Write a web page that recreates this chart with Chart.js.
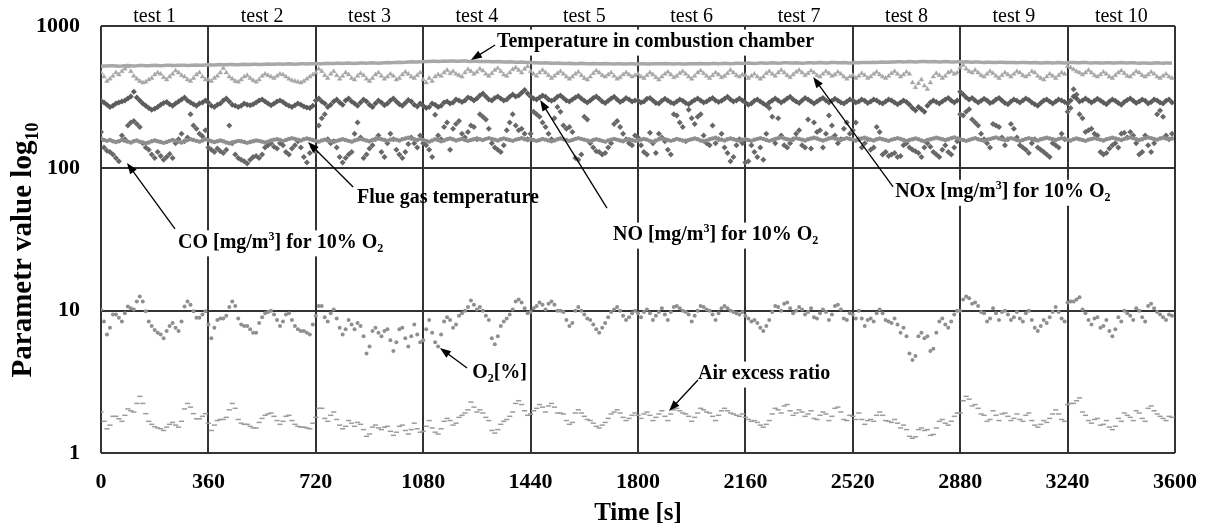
<!DOCTYPE html>
<html>
<head>
<meta charset="utf-8">
<script src="https://cdn.jsdelivr.net/npm/chart.js@4.4.0/dist/chart.umd.min.js"></script>
<style>
  html, body { margin: 0; padding: 0; background: #fff; }
  #wrap { width: 1206px; height: 530px; }
</style>
</head>
<body>
<div id="wrap"><canvas id="chart" width="1206" height="530"></canvas></div>
<script>
// sampling step of the measurements [s]
var sampleStep = 10;
var testLabels = ["test 1", "test 2", "test 3", "test 4", "test 5", "test 6", "test 7", "test 8", "test 9", "test 10"];
var yTicks = [1, 10, 100, 1000];

// temperature in combustion chamber
var chamberTemp = [
  522,524,523,525,526,524,522,523,525,527,526,524,525,527,528,526,525,527,529,528,526,527,529,530,528,527,529,531,530,528,529,531,532,530,531,533,
  534,532,533,535,536,534,535,537,536,534,535,537,538,536,537,539,538,536,537,539,540,538,539,541,540,538,540,542,541,539,541,543,542,540,542,544,
  545,543,544,546,547,545,546,548,547,545,547,549,548,546,548,550,549,547,549,551,550,548,550,552,554,552,553,555,557,555,556,558,560,558,559,561,
  562,564,563,565,566,564,565,567,566,568,567,565,566,568,567,565,564,566,565,563,562,564,563,561,560,562,561,559,558,560,559,557,556,558,556,554,
  553,551,552,550,549,551,550,548,547,549,548,546,545,547,546,544,545,547,546,544,543,545,544,542,543,545,544,542,541,543,542,540,541,543,542,540,
  541,543,542,540,541,543,544,542,543,545,544,542,541,543,542,540,541,543,544,542,543,545,544,542,543,545,546,544,545,547,546,544,545,547,548,546,
  547,549,548,546,547,549,550,548,549,551,550,548,549,551,552,550,549,551,550,548,549,551,552,550,551,553,552,550,551,553,554,552,551,553,552,550,
  551,553,552,554,555,553,554,556,555,557,558,556,557,559,558,560,561,559,560,562,561,559,560,562,563,561,560,562,561,559,560,562,561,559,558,560,
  561,559,560,558,557,559,558,556,555,557,556,554,555,557,556,554,553,555,554,552,553,555,554,552,551,553,552,550,551,553,552,550,551,553,552,550,
  552,554,553,551,552,554,553,551,550,552,551,549,550,552,551,549,550,552,553,551,550,552,551,549,548,550,549,547,548,550,551,549,548,550,549,547
];

// NOx [mg/m3] for 10% O2
var noxValues = [
  470,440,410,425,445,470,455,480,500,520,480,445,425,410,400,405,420,430,455,470,460,435,420,440,460,485,470,450,440,420,410,430,455,470,440,420,
  420,410,430,445,470,505,470,440,425,410,405,420,440,450,430,415,405,420,445,460,450,440,430,445,460,455,440,425,415,410,405,400,410,425,440,455,
  470,500,480,450,430,460,480,450,425,445,470,455,430,420,445,465,450,425,410,430,455,470,445,425,440,460,445,420,430,455,475,460,440,430,450,470,
  420,400,430,410,440,455,445,470,490,465,480,460,450,440,470,495,480,460,475,500,485,460,445,465,490,505,480,455,445,470,495,510,490,470,500,520,
  480,460,445,470,490,470,450,430,445,465,480,460,440,425,440,460,475,450,430,420,440,465,485,470,450,440,455,470,445,425,435,455,470,455,440,450,
  460,440,430,450,470,455,435,420,440,460,475,455,435,445,465,480,460,440,425,445,470,485,465,445,430,450,470,455,435,445,465,490,470,450,440,455,
  450,430,445,460,440,425,440,465,480,460,445,470,490,470,450,435,455,475,490,470,450,465,485,470,450,440,460,480,465,445,455,475,460,440,425,440,
  450,430,445,465,450,430,440,460,475,455,440,430,445,465,480,460,440,455,475,460,400,370,395,420,380,360,400,440,465,450,430,445,470,480,460,470,
  510,530,500,480,470,490,470,450,440,460,480,465,445,430,450,470,455,440,460,480,470,450,440,455,480,470,445,430,420,440,460,445,430,450,470,460,
  520,510,495,480,470,455,470,490,470,450,440,455,475,460,440,430,450,470,485,465,445,440,460,480,470,450,440,455,475,460,440,430,445,460,440,430
];

// NO [mg/m3] for 10% O2
var noValues = [
  298,290,280,270,275,285,290,295,300,310,320,345,315,300,285,275,265,258,262,270,280,288,292,282,275,285,295,305,315,300,290,282,275,285,290,300,
  290,275,270,280,285,300,310,295,280,275,270,275,285,280,278,282,290,300,305,295,285,278,285,295,300,292,282,275,270,278,285,280,272,268,265,275,
  300,310,295,285,270,280,295,305,290,280,300,310,295,285,275,290,305,295,280,270,285,300,290,278,285,300,310,295,282,275,288,302,295,280,272,285,
  275,265,270,285,280,270,275,290,295,285,290,305,300,292,300,315,310,300,310,325,335,320,305,300,312,320,310,300,305,318,330,320,325,340,355,335,
  320,310,305,315,325,318,305,298,305,318,325,312,300,295,305,315,322,310,298,290,300,312,320,308,295,288,298,310,318,305,292,300,312,305,295,300,
  300,290,295,308,312,300,288,285,298,308,300,290,285,295,305,298,288,282,292,302,310,300,290,295,305,312,300,292,298,308,318,305,295,300,310,300,
  290,280,285,298,305,295,285,278,290,300,310,300,290,298,310,318,305,295,288,300,312,305,295,285,295,305,312,300,290,298,308,300,290,285,295,305,
  300,290,295,305,298,288,295,305,300,290,285,295,305,300,290,282,290,300,292,280,265,255,270,260,250,275,290,300,292,285,295,305,312,300,290,300,
  345,330,315,305,312,300,290,298,308,300,288,292,305,312,300,288,282,295,305,298,290,300,310,302,290,282,275,288,300,305,295,285,295,305,300,292,
  285,300,320,310,295,300,310,300,290,298,308,300,290,282,295,305,298,288,280,292,302,310,298,288,295,305,298,285,292,305,300,290,285,298,305,290
];

// flue gas temperature
var flueGasTemp = [
  162,158,156,158,155,153,155,158,156,154,152,155,157,154,152,150,152,155,157,155,153,151,153,156,158,156,154,152,155,158,160,158,156,154,157,160,
  158,155,153,155,157,155,152,150,152,154,156,155,153,151,153,155,157,156,154,152,154,157,159,160,158,156,158,161,163,161,159,157,160,162,160,158,
  156,154,157,159,157,155,153,156,158,160,158,156,154,157,159,161,159,157,155,158,160,162,160,158,156,159,161,159,157,160,162,164,162,160,158,161,
  158,156,154,157,160,158,155,157,160,162,160,157,159,161,158,156,158,160,162,160,158,161,163,161,159,157,160,162,160,158,156,159,161,163,160,158,
  160,158,156,158,161,159,157,155,157,160,162,160,158,156,158,161,163,161,159,157,155,158,160,158,156,154,157,159,161,159,157,155,158,160,158,156,
  157,159,161,159,156,154,157,160,162,160,158,156,158,161,159,157,155,158,160,162,160,157,155,157,160,162,164,161,159,157,160,162,160,158,156,159,
  160,158,156,159,161,163,161,158,156,158,161,163,165,162,160,158,160,163,161,159,157,160,162,164,162,159,157,159,162,164,162,160,158,161,163,161,
  159,157,160,162,164,161,159,157,160,162,160,158,156,159,161,163,161,158,156,158,160,162,160,157,155,158,160,162,164,162,160,158,160,163,165,162,
  160,158,156,158,161,163,160,158,156,159,161,163,165,162,160,158,161,163,161,158,156,158,161,163,161,159,157,160,162,164,162,160,158,161,163,161,
  159,157,160,162,160,158,156,159,161,163,161,159,157,160,162,164,162,160,158,161,163,165,163,160,158,160,163,165,163,161,159,162,164,162,160,162
];

// CO [mg/m3] for 10% O2
var coValues = [
  180,140,133,130,125,118,112,170,160,200,210,215,205,195,150,140,135,125,118,130,122,115,120,126,118,150,160,175,155,165,240,200,190,175,168,185,
  140,135,130,138,132,128,135,200,150,125,118,115,112,108,115,120,122,118,125,140,145,150,142,138,150,145,130,125,138,145,155,140,120,110,128,140,
  130,200,225,240,160,150,155,140,120,110,118,125,130,175,210,165,118,125,138,145,160,170,130,120,150,175,160,135,125,118,130,148,165,150,140,170,
  150,145,135,120,238,170,160,195,210,135,190,205,215,175,165,180,200,195,160,240,230,220,190,150,140,135,130,145,185,210,240,200,185,190,175,160,
  175,250,240,230,210,195,175,160,225,270,250,200,190,195,180,118,115,125,230,220,150,140,132,130,125,128,140,150,205,215,195,175,160,150,145,170,
  165,145,130,125,178,150,128,175,165,155,135,125,240,235,210,195,155,258,225,205,230,240,170,150,145,200,150,160,175,140,128,112,120,145,160,150,
  110,112,145,130,120,140,115,175,265,230,150,225,170,145,140,150,160,175,185,145,140,220,138,210,180,185,140,175,235,200,170,150,160,190,210,175,
  185,210,160,140,150,160,135,140,195,180,125,130,122,125,128,120,122,145,150,140,135,132,128,120,140,150,142,130,125,120,135,145,130,125,140,155,
  240,235,250,260,220,210,200,175,160,150,140,205,200,195,165,145,160,205,190,165,145,140,135,128,150,160,140,135,130,125,120,150,145,140,175,160,
  250,265,360,330,240,225,180,185,190,175,170,130,125,128,138,145,150,140,175,178,165,180,170,150,125,130,170,145,130,150,240,255,230,170,160,175
];

// O2 [%]
var o2Values = [
  10.2,8.4,6.8,7.6,9.4,9.4,8.9,8.4,9.6,10.7,10.4,10.2,11.6,12.6,11.6,9.9,8.4,7.8,7.3,7.0,6.8,6.4,7.2,7.8,8.2,7.6,7.2,8.4,10.7,11.6,11.0,9.9,8.9,8.9,9.4,9.9,
  8.0,6.4,7.6,8.6,8.8,8.8,9.2,10.6,11.6,10.8,8.8,8.0,7.8,7.8,7.4,7.0,7.0,8.2,9.0,9.6,9.8,10.0,9.4,8.6,7.8,8.4,9.4,9.6,8.6,7.8,7.4,7.2,7.2,7.0,6.8,8.0,
  9.2,10.8,10.8,9.0,8.4,9.6,10.2,8.8,7.6,6.8,7.4,8.6,8.0,7.4,8.2,7.8,6.6,5.0,5.6,7.2,7.6,7.0,6.6,7.2,7.4,6.2,5.2,6.0,7.4,7.6,6.4,5.6,6.6,8.0,6.8,6.0,
  6.2,7.4,8.6,7.0,6.0,5.6,6.8,8.4,9.0,8.6,7.6,8.0,9.2,9.6,10.0,10.6,11.8,11.0,10.2,10.6,10.0,9.2,8.6,6.4,5.8,6.6,7.8,8.4,8.8,9.4,10.2,11.6,12.0,11.4,10.4,9.6,
  9.8,10.4,10.8,11.4,11.0,10.2,11.2,11.6,11.0,10.0,10.0,9.8,8.6,7.8,8.2,10.0,10.6,10.0,9.4,8.8,8.6,8.0,7.4,7.0,7.6,8.2,9.0,9.8,10.2,10.6,10.0,9.2,8.6,9.0,9.6,10.0,
  9.6,9.0,9.8,10.2,9.6,8.6,9.2,9.8,10.4,9.4,8.6,9.8,10.6,10.8,10.4,10.0,9.8,9.4,8.4,9.2,10.0,10.8,10.6,10.2,10.0,9.4,8.6,9.6,10.4,10.8,10.4,10.0,9.8,9.6,9.4,9.8,
  9.2,8.8,8.4,8.6,8.2,7.6,7.2,7.8,8.6,9.8,10.8,10.6,10.0,11.2,11.4,10.4,9.6,10.0,10.6,10.2,9.4,9.8,10.4,9.0,8.8,9.6,10.2,9.8,8.6,9.4,10.8,11.0,10.2,8.8,8.6,9.6,
  9.4,8.8,10.0,8.8,7.8,8.6,8.8,8.4,9.6,10.2,9.6,8.6,8.4,8.2,8.8,8.0,7.0,7.6,6.6,5.0,4.5,4.8,6.6,7.0,6.4,6.6,5.2,5.4,7.0,8.4,8.8,8.0,7.6,8.4,9.4,10.0,
  10.0,12.0,12.6,12.2,11.2,11.4,10.8,9.8,9.6,8.4,8.8,10.4,9.6,8.6,9.8,10.0,9.4,8.6,9.0,9.8,8.8,8.4,9.6,10.0,8.6,7.6,7.2,7.8,8.6,8.2,9.0,9.8,10.6,9.8,8.8,8.4,
  11.4,11.6,11.6,12.0,12.4,10.2,9.6,8.6,8.0,8.8,9.0,7.6,7.8,8.6,7.2,6.6,7.4,9.0,8.4,10.0,9.6,9.2,8.6,10.4,10.0,9.0,8.4,10.8,11.2,10.4,9.8,9.4,9.0,8.6,9.4,9.2
];

// air excess ratio
var airExcess = [
  1.94,1.67,1.48,1.57,1.81,1.81,1.74,1.67,1.84,2.04,1.98,1.94,2.23,2.50,2.23,1.89,1.67,1.59,1.53,1.50,1.48,1.44,1.52,1.59,1.64,1.57,1.52,1.67,2.04,2.23,2.10,1.89,1.74,1.74,1.81,1.89,
  1.62,1.44,1.57,1.69,1.72,1.72,1.78,2.01,2.23,2.06,1.72,1.62,1.59,1.59,1.54,1.50,1.50,1.64,1.75,1.84,1.88,1.91,1.81,1.69,1.59,1.67,1.81,1.84,1.69,1.59,1.54,1.52,1.52,1.50,1.48,1.62,
  1.78,2.06,2.06,1.75,1.67,1.84,1.94,1.72,1.57,1.48,1.54,1.69,1.62,1.54,1.64,1.59,1.46,1.31,1.36,1.52,1.57,1.50,1.46,1.52,1.54,1.42,1.33,1.40,1.54,1.57,1.44,1.36,1.46,1.62,1.48,1.40,
  1.42,1.54,1.69,1.50,1.40,1.36,1.48,1.67,1.75,1.69,1.57,1.62,1.78,1.84,1.91,2.01,2.28,2.10,1.94,2.01,1.91,1.78,1.69,1.44,1.38,1.46,1.59,1.67,1.72,1.81,1.94,2.23,2.33,2.19,1.98,1.84,
  1.88,1.98,2.06,2.19,2.10,1.94,2.14,2.23,2.10,1.91,1.91,1.88,1.69,1.59,1.64,1.91,2.01,1.91,1.81,1.72,1.69,1.62,1.54,1.50,1.57,1.64,1.75,1.88,1.94,2.01,1.91,1.78,1.69,1.75,1.84,1.91,
  1.84,1.75,1.88,1.94,1.84,1.69,1.78,1.88,1.98,1.81,1.69,1.88,2.01,2.06,1.98,1.91,1.88,1.81,1.67,1.78,1.91,2.06,2.01,1.94,1.91,1.81,1.69,1.84,1.98,2.06,1.98,1.91,1.88,1.84,1.81,1.88,
  1.78,1.72,1.67,1.69,1.64,1.57,1.52,1.59,1.69,1.88,2.06,2.01,1.91,2.14,2.19,1.98,1.84,1.91,2.01,1.94,1.81,1.88,1.98,1.75,1.72,1.84,1.94,1.88,1.69,1.81,2.06,2.10,1.94,1.72,1.69,1.84,
  1.81,1.72,1.91,1.72,1.59,1.69,1.72,1.67,1.84,1.94,1.84,1.69,1.67,1.64,1.72,1.62,1.50,1.57,1.46,1.31,1.27,1.30,1.46,1.50,1.44,1.46,1.33,1.35,1.50,1.67,1.72,1.62,1.57,1.67,1.81,1.91,
  1.91,2.33,2.50,2.39,2.14,2.19,2.06,1.88,1.84,1.67,1.72,1.98,1.84,1.69,1.88,1.91,1.81,1.69,1.75,1.88,1.72,1.67,1.84,1.91,1.69,1.57,1.52,1.59,1.69,1.64,1.75,1.88,2.01,1.88,1.72,1.67,
  2.19,2.23,2.23,2.33,2.44,1.94,1.84,1.69,1.62,1.72,1.75,1.57,1.59,1.69,1.52,1.46,1.54,1.75,1.67,1.91,1.84,1.78,1.69,1.98,1.91,1.75,1.67,2.06,2.14,1.98,1.88,1.81,1.75,1.69,1.81,1.78
];

// labels with arrows, positions in data units [time, value]
var notes = [
  { parts: [["Temperature in combustion chamber"]], at: [1327, 772], from: [1321, 735], to: [1240, 577], bg: true },
  { parts: [["Flue gas temperature"]], at: [858, 62], from: [845, 74], to: [694, 153], bg: false },
  { parts: [["CO [mg/m"], ["3", "sup"], ["] for 10% O"], ["2", "sub"]], at: [258, 30], from: [248, 37.5], to: [87, 109], bg: true },
  { parts: [["NO [mg/m"], ["3", "sup"], ["] for 10% O"], ["2", "sub"]], at: [1716, 34], from: [1696, 52.6], to: [1472, 302], bg: true },
  { parts: [["NOx [mg/m"], ["3", "sup"], ["] for 10% O"], ["2", "sub"]], at: [2662, 68], from: [2655, 74], to: [2387, 438], bg: true },
  { parts: [["O"], ["2", "sub"], ["[%]"]], at: [1244, 3.65], from: [1227, 3.95], to: [1136, 5.47], bg: true },
  { parts: [["Air excess ratio"]], at: [2001, 3.59], from: [2001, 3.26], to: [1904, 1.97], bg: true }
];

var serif = '"Liberation Serif", "Times New Roman", serif';
Chart.defaults.font.family = serif;

function pts(vals) {
  return vals.map(function (v, i) { return { x: i * sampleStep, y: v }; });
}

function drawRich(ctx, parts, x, y, size, bg) {
  var big = "bold " + size + "px " + serif;
  var small = "bold " + Math.round(size * 0.62) + "px " + serif;
  var w = 0;
  parts.forEach(function (p) {
    ctx.font = p[1] ? small : big;
    w += ctx.measureText(p[0]).width;
  });
  if (bg) {
    ctx.fillStyle = "#fff";
    ctx.fillRect(x - 3, y - size * 0.62, w + 6, size * 1.3);
  }
  ctx.fillStyle = "#000";
  ctx.textAlign = "left";
  ctx.textBaseline = "middle";
  var cx = x;
  parts.forEach(function (p) {
    ctx.font = p[1] ? small : big;
    var dy = p[1] === "sup" ? -size * 0.3 : p[1] === "sub" ? size * 0.3 : 0;
    ctx.fillText(p[0], cx, y + dy);
    cx += ctx.measureText(p[0]).width;
  });
}

function drawArrow(ctx, x1, y1, x2, y2) {
  var a = Math.atan2(y2 - y1, x2 - x1);
  ctx.strokeStyle = "#000";
  ctx.lineWidth = 1.3;
  ctx.beginPath();
  ctx.moveTo(x1, y1);
  ctx.lineTo(x2 - 6 * Math.cos(a), y2 - 6 * Math.sin(a));
  ctx.stroke();
  ctx.fillStyle = "#000";
  ctx.beginPath();
  ctx.moveTo(x2, y2);
  ctx.lineTo(x2 - 11 * Math.cos(a) + 4 * Math.sin(a), y2 - 11 * Math.sin(a) - 4 * Math.cos(a));
  ctx.lineTo(x2 - 11 * Math.cos(a) - 4 * Math.sin(a), y2 - 11 * Math.sin(a) + 4 * Math.cos(a));
  ctx.closePath();
  ctx.fill();
}

var overlay = {
  id: "overlay",
  afterDraw: function (chart) {
    var ctx = chart.ctx, area = chart.chartArea, xs = chart.scales.x, ys = chart.scales.y;
    ctx.save();

    // test names above the plot
    ctx.font = "20px " + serif;
    ctx.fillStyle = "#000";
    ctx.textAlign = "center";
    ctx.textBaseline = "middle";
    testLabels.forEach(function (t, i) {
      ctx.fillText(t, xs.getPixelForValue(180 + 360 * i), area.top - 9);
    });

    // axis titles
    ctx.font = "bold 25px " + serif;
    ctx.fillText("Time [s]", (area.left + area.right) / 2, 514);

    ctx.save();
    ctx.translate(24, 250);
    ctx.rotate(-Math.PI / 2);
    var main = "Parametr value log", sub = "10";
    ctx.font = "bold 29px " + serif;
    var w1 = ctx.measureText(main).width;
    ctx.font = "bold 18px " + serif;
    var w2 = ctx.measureText(sub).width;
    var sx = -(w1 + w2) / 2;
    ctx.textAlign = "left";
    ctx.font = "bold 29px " + serif;
    ctx.fillText(main, sx, 0);
    ctx.font = "bold 18px " + serif;
    ctx.fillText(sub, sx + w1, 9);
    ctx.restore();

    // annotations
    notes.forEach(function (n) {
      drawRich(ctx, n.parts, xs.getPixelForValue(n.at[0]), ys.getPixelForValue(n.at[1]), 20, n.bg);
      drawArrow(ctx, xs.getPixelForValue(n.from[0]), ys.getPixelForValue(n.from[1]),
        xs.getPixelForValue(n.to[0]), ys.getPixelForValue(n.to[1]));
    });
    ctx.restore();
  }
};

var ctx = document.getElementById("chart").getContext("2d");
var chart = new Chart(ctx, {
  type: "scatter",
  data: {
    datasets: [
      { label: "Temperature in combustion chamber", data: pts(chamberTemp), showLine: true,
        borderColor: "#a8a8a8", borderWidth: 3.5, pointRadius: 0 },
      { label: "NOx [mg/m3] for 10% O2", data: pts(noxValues), pointStyle: "triangle", pointRadius: 2.6,
        backgroundColor: "#a6a6a6", borderColor: "#a6a6a6", borderWidth: 0.5 },
      { label: "NO [mg/m3] for 10% O2", data: pts(noValues), pointStyle: "rectRot", pointRadius: 3,
        backgroundColor: "#5c5c5c", borderWidth: 0 },
      { label: "Flue gas temperature", data: pts(flueGasTemp), showLine: true,
        borderColor: "#8e8e8e", borderWidth: 2, pointRadius: 1.2, backgroundColor: "#8e8e8e" },
      { label: "CO [mg/m3] for 10% O2", data: pts(coValues), pointStyle: "rectRot", pointRadius: 3,
        backgroundColor: "#686868", borderWidth: 0 },
      { label: "O2 [%]", data: pts(o2Values), pointStyle: "circle", pointRadius: 2,
        backgroundColor: "#8f8f8f", borderWidth: 0 },
      { label: "Air excess ratio", data: pts(airExcess), pointStyle: "line", pointRadius: 2.6,
        borderColor: "#9c9c9c", borderWidth: 1.5 }
    ]
  },
  options: {
    responsive: false,
    animation: false,
    layout: { padding: { top: 26, right: 31, bottom: 0, left: 0 } },
    plugins: { legend: { display: false }, tooltip: { enabled: false } },
    scales: {
      x: {
        type: "linear", min: 0, max: 3600,
        afterFit: function (s) { s.height = 77; s.paddingLeft = 0; s.paddingRight = 0; },
        ticks: { stepSize: 360, color: "#000", font: { size: 22, weight: "bold" }, padding: 16, maxRotation: 0, autoSkip: false,
          callback: function (v) { return String(v); } },
        grid: { color: "#333", lineWidth: 2, drawTicks: false },
        border: { display: false }
      },
      y: {
        type: "logarithmic", min: 1, max: 1000,
        afterFit: function (s) { s.width = 101; s.paddingTop = 0; s.paddingBottom = 0; },
        afterBuildTicks: function (s) { s.ticks = yTicks.map(function (v) { return { value: v }; }); },
        ticks: { color: "#000", font: { size: 22, weight: "bold" }, padding: 21, callback: function (v) { return String(v); } },
        grid: { color: "#333", lineWidth: 2, drawTicks: false },
        border: { display: false }
      }
    }
  },
  plugins: [overlay]
});
</script>
</body>
</html>
